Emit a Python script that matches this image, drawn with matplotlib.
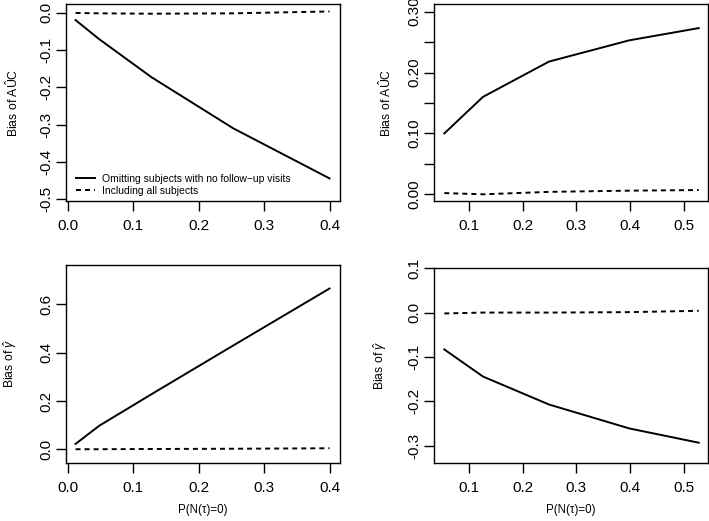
import matplotlib
matplotlib.use("Agg")
import matplotlib.pyplot as plt

plt.rcParams['font.family'] = ['Liberation Sans', 'DejaVu Sans']
plt.rcParams['mathtext.fontset'] = 'custom'
plt.rcParams['mathtext.rm'] = 'Liberation Sans'
plt.rcParams['mathtext.it'] = 'Liberation Sans:italic'
plt.rcParams['lines.scale_dashes'] = False

# data
p0_left = [0.012, 0.048, 0.128, 0.253, 0.400]
auc_omit_left = [-0.020, -0.071, -0.173, -0.310, -0.444]
auc_all_left = [-0.001, -0.002, -0.003, -0.002, 0.003]
gam_omit_left = [0.022, 0.097, 0.228, 0.430, 0.666]
gam_all_left = [0.000, 0.000, 0.001, 0.002, 0.004]

p0_right = [0.054, 0.126, 0.249, 0.399, 0.528]
auc_omit_right = [0.100, 0.160, 0.218, 0.253, 0.273]
auc_all_right = [0.002, 0.000, 0.004, 0.006, 0.007]
gam_omit_right = [-0.083, -0.144, -0.207, -0.261, -0.293]
gam_all_right = [-0.002, 0.000, 0.000, 0.001, 0.004]

leg_labels = ['Omitting subjects with no follow\u2212up visits', 'Including all subjects']
xlab = 'P(N(\u03c4)=0)'
ylab_auc = r'Bias of $\mathrm{A}\hat{\mathrm{U}}\mathrm{C}$'
ylab_gam = r'Bias of $\hat{\gamma}$'

W, H = 709, 521
fig = plt.figure(figsize=(W / 100, H / 100), dpi=100)


def make_ax(l, r, t, b):
    return fig.add_axes([l / W, 1 - b / H, (r - l) / W, (b - t) / H])


DASH = (0, (3.6, 2.9))
LW = 1.4


def style(ax, xlim, ylim, xticks, yticks, ylabels, ylab, ylab_x):
    ax.set_xlim(xlim)
    ax.set_ylim(ylim)
    ax.set_xticks(xticks)
    ax.set_xticklabels(['%.1f' % v for v in xticks])
    ax.set_yticks(yticks)
    ax.set_yticklabels(ylabels, rotation=90, va='center')
    ax.tick_params(length=7, width=1, labelsize=11, direction='out')
    ax.tick_params(axis='x', pad=6)
    ax.tick_params(axis='y', pad=2)
    for s in ax.spines.values():
        s.set_linewidth(1.0)
    ax.set_ylabel(ylab, fontsize=8.8)
    ax.yaxis.label.set_verticalalignment('center')
    ax.yaxis.set_label_coords(ylab_x, 0.5)


def fmt(vals, d):
    return [('%.' + str(d) + 'f') % v for v in vals]


# top left
ax1 = make_ax(66, 340, 4, 201)
ax1.plot(p0_left, auc_omit_left, color='black', lw=LW, label=leg_labels[0])
ax1.plot(p0_left, auc_all_left, color='black', lw=LW, linestyle=DASH, label=leg_labels[1])
yt = [-0.5, -0.4, -0.3, -0.2, -0.1, 0.0]
style(ax1, (-0.0026, 0.416), (-0.5045, 0.023), [0.0, 0.1, 0.2, 0.3, 0.4],
      yt, fmt(yt, 1), ylab_auc, -0.195)
ax1.legend(loc='lower left', bbox_to_anchor=(0.036, 0.025), frameon=False,
           fontsize=7.5, borderpad=0, borderaxespad=0, handlelength=1.85,
           handletextpad=0.65, labelspacing=0.2)

# top right
ax2 = make_ax(434, 708, 4, 201)
ax2.plot(p0_right, auc_omit_right, color='black', lw=LW)
ax2.plot(p0_right, auc_all_right, color='black', lw=LW, linestyle=DASH)
yt = [0.0, 0.05, 0.10, 0.15, 0.20, 0.25, 0.30]
ylabels = ['0.00', '', '0.10', '', '0.20', '', '0.30']
style(ax2, (0.0348, 0.5453), (-0.011, 0.3126), [0.1, 0.2, 0.3, 0.4, 0.5],
      yt, ylabels, ylab_auc, -0.175)

# bottom left
ax3 = make_ax(66, 340, 264.5, 462.5)
ax3.plot(p0_left, gam_omit_left, color='black', lw=LW)
ax3.plot(p0_left, gam_all_left, color='black', lw=LW, linestyle=DASH)
yt = [0.0, 0.2, 0.4, 0.6]
style(ax3, (-0.0026, 0.416), (-0.055, 0.7655), [0.0, 0.1, 0.2, 0.3, 0.4],
      yt, fmt(yt, 1), ylab_gam, -0.205)
ax3.set_xlabel(xlab, fontsize=8.3)
ax3.xaxis.set_label_coords(0.5, -0.212)

# bottom right
ax4 = make_ax(434, 708, 267.5, 462.5)
ax4.plot(p0_right, gam_omit_right, color='black', lw=LW)
ax4.plot(p0_right, gam_all_right, color='black', lw=LW, linestyle=DASH)
yt = [-0.3, -0.2, -0.1, 0.0, 0.1]
style(ax4, (0.0348, 0.5453), (-0.3376, 0.1015), [0.1, 0.2, 0.3, 0.4, 0.5],
      yt, fmt(yt, 1), ylab_gam, -0.195)
ax4.set_xlabel(xlab, fontsize=8.3)
ax4.xaxis.set_label_coords(0.5, -0.212)

fig.savefig('out.png', dpi=100)
